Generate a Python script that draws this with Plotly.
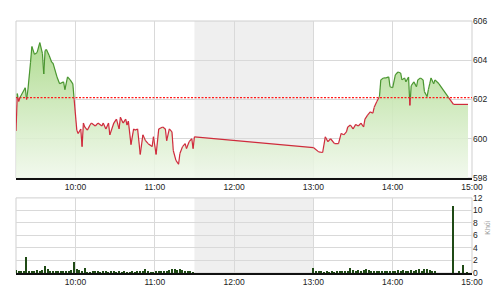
import plotly.graph_objects as go
import pandas as pd

DAY = "2024-01-01 "

# ---- price series ----
price_times = [
    "09:15", "09:16", "09:17", "09:18", "09:22", "09:23", "09:24", "09:26", "09:27", "09:29",
    "09:31", "09:33", "09:35", "09:36", "09:37", "09:38", "09:40", "09:42", "09:43", "09:46",
    "09:48", "09:51", "09:52", "09:54", "09:56", "09:58", "09:59", "10:01", "10:02", "10:04",
    "10:05", "10:06", "10:07", "10:09", "10:11", "10:12", "10:15", "10:17", "10:20", "10:21",
    "10:23", "10:25", "10:26", "10:29", "10:31", "10:33", "10:34", "10:36", "10:38", "10:39",
    "10:40", "10:42", "10:44", "10:45", "10:47", "10:49", "10:51", "10:53", "10:55", "10:58",
    "10:59", "11:01", "11:03", "11:06", "11:08", "11:09", "11:11", "11:13", "11:14", "11:16",
    "11:18", "11:19", "11:21", "11:23", "11:24", "11:26", "11:28", "11:29", "11:30",
    "13:00", "13:04", "13:07", "13:09", "13:11", "13:13", "13:16", "13:19", "13:21", "13:23",
    "13:25", "13:26", "13:28", "13:30", "13:32", "13:34", "13:36", "13:38", "13:39", "13:41",
    "13:43", "13:45", "13:46", "13:48", "13:50", "13:51", "13:53", "13:55", "13:57", "13:58",
    "14:00", "14:02", "14:04", "14:06", "14:07", "14:09", "14:10", "14:12", "14:13", "14:14",
    "14:16", "14:18", "14:19", "14:21", "14:23", "14:24", "14:26", "14:27", "14:28", "14:29",
    "14:31", "14:32", "14:35", "14:46", "14:57",
]
price_vals = [
    600.4, 602.3, 601.9, 602.1, 602.6, 602.0, 602.5, 603.9, 604.7, 604.3,
    604.4, 604.9, 604.35, 603.3, 604.5, 604.55, 604.25, 603.9, 603.85, 603.15,
    602.8, 602.9, 602.5, 603.15, 603.0, 602.8, 602.0, 600.44, 600.27, 600.5,
    599.6, 600.8, 600.6, 600.44, 600.7, 600.8, 600.65, 600.8, 600.65, 600.8,
    600.5, 600.8, 600.2, 600.8, 601.0, 600.5, 601.1, 600.8, 601.0, 600.7,
    600.9, 599.7, 600.5, 600.44, 600.5, 599.2, 600.2, 599.9, 599.75, 599.6,
    600.1, 599.2, 600.5, 600.6, 600.5, 599.9, 600.5, 600.35, 599.4, 598.9,
    598.7, 599.25, 599.6, 599.75, 599.5, 599.85, 600.0, 599.5, 600.1,
    599.55, 599.33, 599.3, 600.1, 599.85, 600.0, 599.75, 599.75, 600.27, 600.2,
    600.35, 600.6, 600.7, 600.5, 600.73, 600.65, 600.8, 600.6, 601.0, 601.2,
    601.37, 601.3, 601.6, 601.9, 602.15, 603.0, 603.1, 603.1, 603.15, 602.65,
    602.6, 603.25, 603.4, 603.35, 603.0, 603.1, 602.9, 603.15, 601.7, 602.7,
    602.9, 602.65, 603.0, 603.1, 603.0, 602.4, 602.15, 602.5, 602.8, 603.1,
    602.8, 603.0, 602.8, 601.75, 601.75,
]
ref_price = 602.1

# ---- volume, 2-minute bars ----
vol_am = [
    0.5, 0.3, 0.3, 0.4, 2.6, 0.4, 0.3, 0.4, 0.5, 0.4,
    0.5, 1.1, 0.6, 0.4, 0.3, 0.4, 0.3, 0.3, 0.4, 0.3,
    0.4, 0.5, 1.8, 0.6, 0.5, 0.4, 0.8, 0.2, 0.2, 0.4,
    0.3, 0.3, 0.2, 0.3, 0.3, 0.2, 0.3, 0.3, 0.2, 0.3,
    0.2, 0.3, 0.2, 0.2, 0.3, 0.2, 0.3, 0.3, 0.4, 0.6,
    0.3, 0.2, 0.2, 0.3, 0.3, 0.4, 0.3, 0.4, 0.5, 0.6,
    0.6, 0.5, 0.6, 0.5, 0.4, 0.3, 0.3, 0.2,
]
vol_pm = [
    0.8, 0.4, 0.3, 0.3, 0.2, 0.3, 0.2, 0.3, 0.2, 0.3,
    0.3, 0.4, 0.3, 0.4, 0.8, 0.5, 0.4, 0.5, 0.4, 0.5,
    0.6, 0.5, 0.4, 0.3, 0.3, 0.4, 0.3, 0.3, 0.4, 0.3,
    0.3, 0.4, 0.5, 0.4, 0.5, 0.4, 0.3, 0.5, 0.4, 0.5,
    0.6, 0.4, 0.6, 0.7, 0.5, 0.4, 0.3,
]
vol_late_times = ["14:46", "14:50", "14:53", "14:56"]
vol_late = [10.8, 0.3, 1.3, 0.2]

price_ticks = [598, 600, 602, 604, 606]
vol_ticks = [0, 2, 4, 6, 8, 10, 12]
hour_ticks = ["10:00", "11:00", "12:00", "13:00", "14:00", "15:00"]

# ---- build ----
t = pd.to_datetime([DAY + s for s in price_times])
vol_t = list(pd.date_range(DAY + "09:15", periods=len(vol_am), freq="2min")) + \
        list(pd.date_range(DAY + "13:00", periods=len(vol_pm), freq="2min")) + \
        list(pd.to_datetime([DAY + s for s in vol_late_times]))
vols = vol_am + vol_pm + vol_late

# split line into above/below reference segments
gx, gy, rx, ry = [], [], [], []
for i in range(len(t) - 1):
    x0, x1 = t[i], t[i + 1]
    y0, y1 = price_vals[i], price_vals[i + 1]
    a0, a1 = y0 >= ref_price, y1 >= ref_price
    if a0 == a1:
        segs = [(x0, y0, x1, y1, a0)]
    else:
        f = (ref_price - y0) / (y1 - y0)
        xm = x0 + (x1 - x0) * f
        segs = [(x0, y0, xm, ref_price, a0), (xm, ref_price, x1, y1, a1)]
    for (sx0, sy0, sx1, sy1, above) in segs:
        if above:
            gx += [sx0, sx1, None]; gy += [sy0, sy1, None]
        else:
            rx += [sx0, sx1, None]; ry += [sy0, sy1, None]

xr = [pd.Timestamp(DAY + "09:15"), pd.Timestamp(DAY + "15:00")]

fig = go.Figure()
# baseline + gradient fill
fig.add_trace(go.Scatter(x=[t[0], t[-1]], y=[598, 598], mode="lines",
                         line=dict(width=0), hoverinfo="skip", showlegend=False,
                         xaxis="x", yaxis="y"))
fig.add_trace(go.Scatter(x=t, y=price_vals, mode="lines", line=dict(width=0),
                         fill="tonexty",
                         fillgradient=dict(type="vertical", start=598, stop=605,
                                           colorscale=[[0, "rgba(240,248,235,0.85)"],
                                                       [1, "rgba(172,218,140,0.95)"]]),
                         hoverinfo="skip", showlegend=False, xaxis="x", yaxis="y"))
# reference price line
fig.add_trace(go.Scatter(x=xr, y=[ref_price, ref_price], mode="lines",
                         line=dict(color="#ff1a1a", width=1.2, dash="2px,1.5px"),
                         hoverinfo="skip", showlegend=False, xaxis="x", yaxis="y"))
fig.add_trace(go.Scatter(x=gx, y=gy, mode="lines", line=dict(color="#4a9630", width=1.2),
                         showlegend=False, xaxis="x", yaxis="y"))
fig.add_trace(go.Scatter(x=rx, y=ry, mode="lines", line=dict(color="#cf2b3c", width=1.2),
                         showlegend=False, xaxis="x", yaxis="y"))
fig.add_trace(go.Bar(x=vol_t, y=vols, marker=dict(color="#1f4a15", line=dict(width=0)),
                     width=55000, showlegend=False, xaxis="x2", yaxis="y2"))

tickv = [pd.Timestamp(DAY + h) for h in hour_ticks]
font = dict(family="Liberation Sans, Arial", size=8.5, color="#222")
xcommon = dict(range=xr, tickvals=tickv, ticktext=hour_ticks, showgrid=True,
               gridcolor="#d9d9d9", gridwidth=1, showline=True, linecolor="#111",
               linewidth=2, zeroline=False, tickfont=font, ticks="")

lunch0, lunch1 = pd.Timestamp(DAY + "11:30"), pd.Timestamp(DAY + "13:00")
shapes = []
for xa, ya in (("x", "y"), ("x2", "y2")):
    shapes.append(dict(type="rect", xref=xa, yref=ya + " domain", x0=lunch0, x1=lunch1,
                       y0=0, y1=1, fillcolor="#efefef", line=dict(width=0), layer="below"))
    shapes.append(dict(type="rect", xref=xa + " domain", yref=ya + " domain", x0=0, x1=1,
                       y0=0, y1=1, line=dict(color="#cfcfcf", width=1), layer="below"))

fig.update_layout(
    width=500, height=300, margin=dict(l=16, r=28, t=21, b=27),
    paper_bgcolor="white", plot_bgcolor="rgba(0,0,0,0)",
    xaxis=dict(domain=[0, 1], anchor="y", **xcommon),
    xaxis2=dict(domain=[0, 1], anchor="y2", **xcommon),
    yaxis=dict(domain=[0.377, 1], range=[598, 606], tickvals=price_ticks, side="right",
               showgrid=True, gridcolor="#d9d9d9", zeroline=False, tickfont=font,
               anchor="x"),
    yaxis2=dict(domain=[0, 0.298], range=[0, 12], tickvals=vol_ticks, side="right",
                showgrid=True, gridcolor="#d9d9d9", zeroline=False, tickfont=font,
                anchor="x2"),
    shapes=shapes, bargap=0,
    annotations=[dict(text="Khối", xref="paper", yref="paper", x=1.033, y=0.18,
                      xanchor="center", yanchor="middle",
                      textangle=-90, showarrow=False,
                      font=dict(family="Liberation Sans, Arial", size=7, color="#999"))],
)

fig.write_html("out.html")
